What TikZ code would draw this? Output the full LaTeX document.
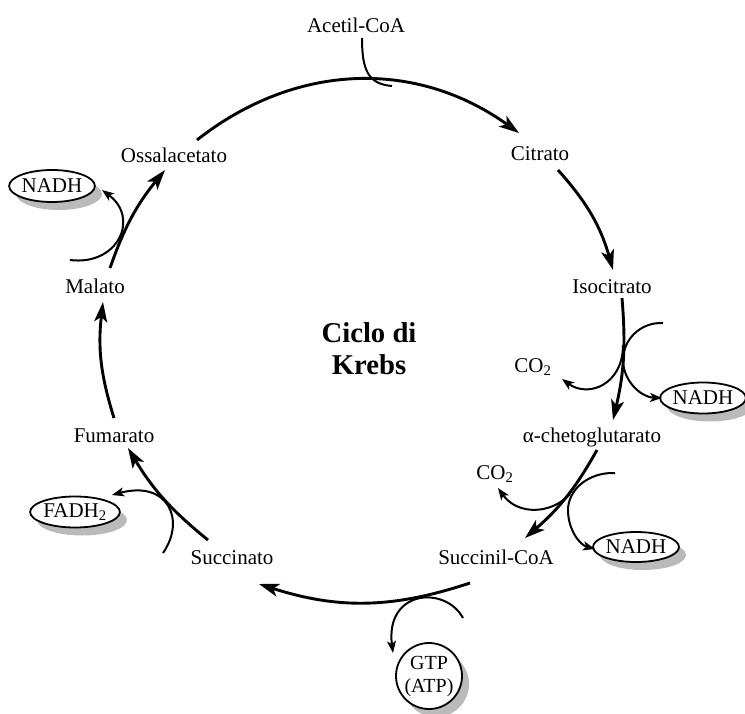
\documentclass[tikz,border=0pt]{standalone}
\usepackage{fontspec}
\setmainfont{Liberation Serif}
\usetikzlibrary{arrows.meta,shapes.geometric,shadows}
\begin{document}
\begin{tikzpicture}[x=1pt,y=-1pt,
  lbl/.style={inner sep=2pt, font=\fontsize{21}{25}\selectfont, anchor=base},
  mainarr/.style={line width=2.9pt, -{Stealth[length=20pt,width=13pt,inset=5pt]}},
  thinarr/.style={line width=2pt, -{Stealth[length=12pt,width=9pt,inset=3pt]}},
  thinline/.style={line width=2pt},
  prod/.style={draw, ellipse, line width=1.8pt, fill=white, inner sep=0pt,
    font=\fontsize{21}{25}\selectfont,
    drop shadow={fill=black!27, opacity=1, shadow xshift=7pt, shadow yshift=-8pt}},
]
\useasboundingbox (0,0) rectangle (745,713);

% metabolite labels
\node[lbl] (ace) at (356,32) {Acetil-CoA};
\node[lbl] (cit) at (540,160) {Citrato};
\node[lbl] (iso) at (612,293) {Isocitrato};
\node[lbl] (akg) at (592,442) {α-chetoglutarato};
\node[lbl] (sca) at (496,564) {Succinil-CoA};
\node[lbl] (suc) at (232,564) {Succinato};
\node[lbl] (fum) at (114,442) {Fumarato};
\node[lbl] (mal) at (95,293) {Malato};
\node[lbl] (oss) at (174,162) {Ossalacetato};
\node[align=center, inner sep=0pt, font=\bfseries\fontsize{28.7}{32}\selectfont] (title) at (369,349) {Ciclo di\\Krebs};

\node[lbl] (co2a) at (533,372) {CO\textsubscript{2}};
\node[lbl] (co2b) at (495,479) {CO\textsubscript{2}};

% products
\node[prod, minimum width=80pt, minimum height=32pt] (nadh1) at (52,186) {NADH};
\node[prod, minimum width=80pt, minimum height=31pt] (nadh2) at (703,398) {NADH};
\node[prod, minimum width=86pt, minimum height=30pt] (nadh3) at (636,547) {NADH};
\node[prod, minimum width=78pt, minimum height=31pt] (fadh) at (75,512) {FADH\textsubscript{2}};
\node[prod, circle, minimum size=66pt, align=center, font=\fontsize{20}{23}\selectfont] (gtp) at (429,676) {GTP\\(ATP)};

% arrow end points
\coordinate (a1s) at (197,140); \coordinate (a1e) at (519,133);
\coordinate (a2s) at (558,170); \coordinate (a2e) at (613,270);
\coordinate (a3s) at (622,298); \coordinate (a3e) at (613,420);
\coordinate (a4s) at (597,450); \coordinate (a4e) at (525,538);
\coordinate (a5s) at (470,583); \coordinate (a5e) at (259,584);
\coordinate (a6s) at (208,540); \coordinate (a6e) at (128,448);
\coordinate (a7s) at (114,418); \coordinate (a7e) at (103,302);
\coordinate (a8s) at (110,268); \coordinate (a8e) at (165,170);

% main cycle
\draw[mainarr] (a1s) to[bend left=37] (a1e);
\draw[mainarr] (a2s) to[bend left=13] (a2e);
\draw[mainarr] (a3s) to[bend left=9] (a3e);
\draw[mainarr] (a4s) to[bend left=10] (a4e);
\draw[mainarr] (a5s) to[bend left=18] (a5e);
\draw[mainarr] (a6s) to[bend left=10] (a6e);
\draw[mainarr] (a7s) to[bend left=12] (a7e);
\draw[mainarr] (a8s) to[bend left=10] (a8e);

% side reactions
\coordinate (aces) at (362,38); \coordinate (acej) at (392,86);
\draw[thinline] (aces) .. controls (362,70) and (368,84) .. (acej);

\coordinate (n2s) at (663,323); \coordinate (n2e) at (662,398);
\draw[thinarr] (n2s) .. controls (640,322) and (623,340) .. (623,360)
  .. controls (623,380) and (640,397) .. (n2e);
\coordinate (c1s) at (623,345); \coordinate (c1e) at (562,379);
\draw[thinarr] (c1s) .. controls (623,385) and (588,398) .. (c1e);

\coordinate (c2s) at (570,494); \coordinate (c2e) at (498,488);
\draw[thinarr] (c2s) .. controls (552,514) and (518,516) .. (c2e);
\coordinate (n3s) at (615,473); \coordinate (n3e) at (595,549);
\draw[thinarr] (n3s) .. controls (588,472) and (568,490) .. (568,510)
  .. controls (568,530) and (580,545) .. (n3e);

\coordinate (gs) at (463,618); \coordinate (ge) at (393,653);
\draw[thinarr] (gs) .. controls (445,585) and (385,590) .. (ge);

\coordinate (fs) at (163,553); \coordinate (fe) at (112,495);
\draw[thinarr] (fs) .. controls (186,520) and (168,480) .. (fe);

\coordinate (ns) at (70,260); \coordinate (ne) at (102,190);
\draw[thinarr] (ns) .. controls (118,266) and (140,218) .. (ne);
\end{tikzpicture}
\end{document}
